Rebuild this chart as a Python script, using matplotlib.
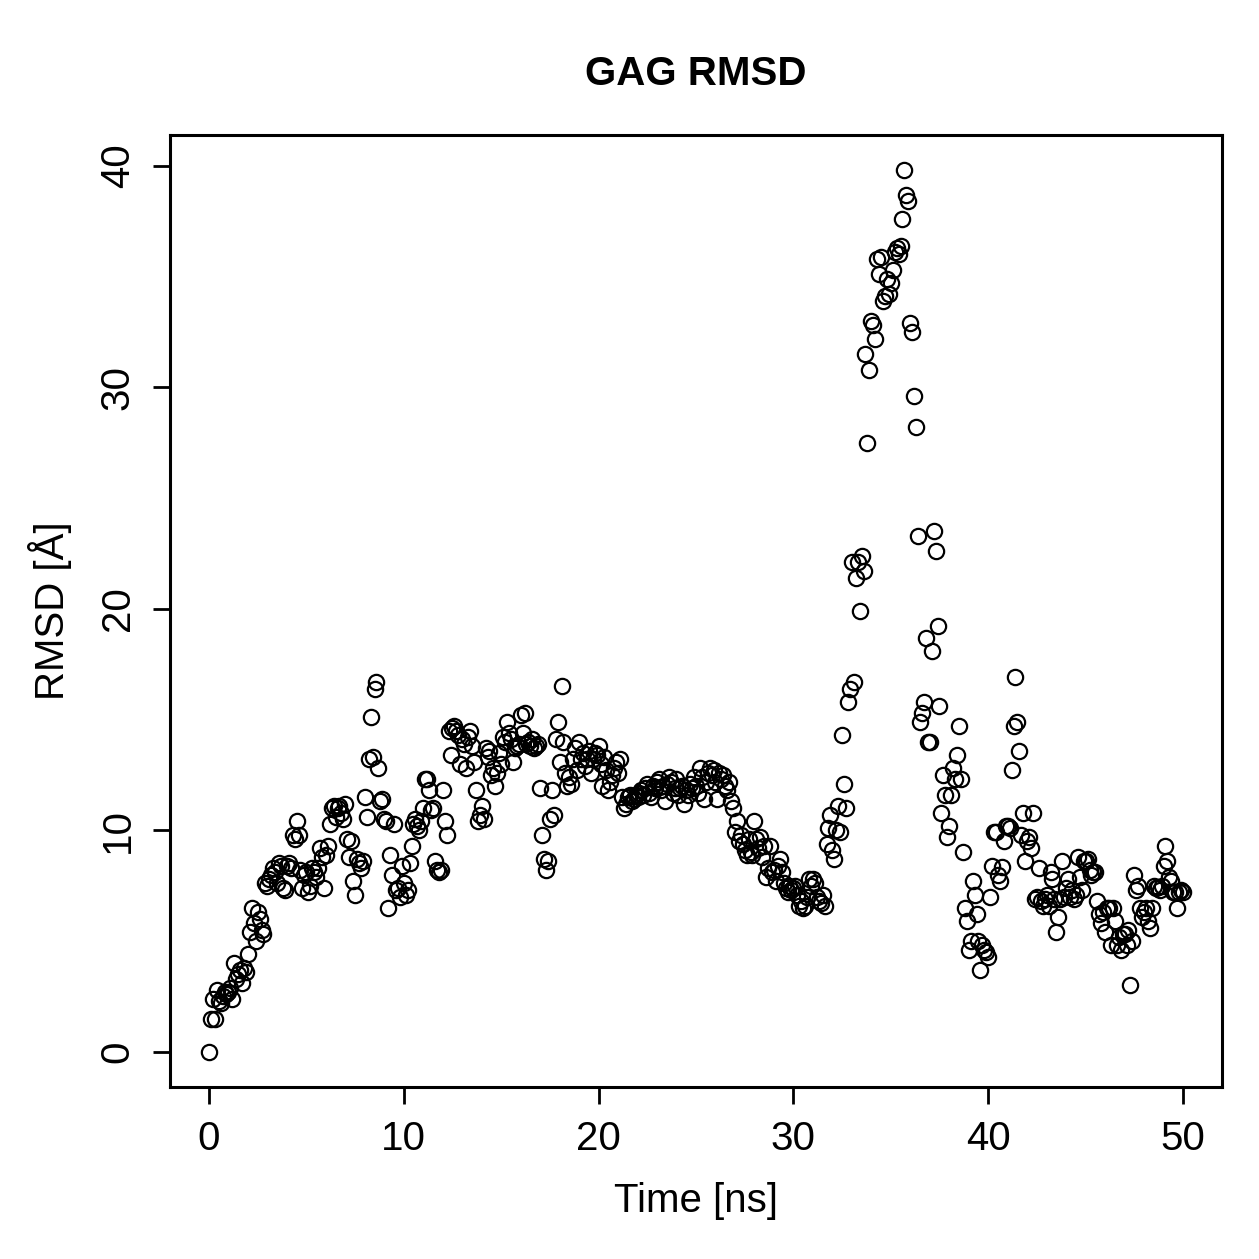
import numpy as np
import matplotlib
matplotlib.use("Agg")
import matplotlib.pyplot as plt

plt.rcParams['font.family'] = ['Liberation Sans', 'DejaVu Sans']

# ── RMSD values, one frame every 0.1 ns (rows = 1 ns) ───────────────────────
rmsd_0_10 = [
    0.0, 1.5, 2.4, 1.5, 2.8, 2.3, 2.2, 2.5, 2.7, 2.6,
    2.7, 2.9, 2.4, 4.0, 3.3, 3.5, 3.7, 3.1, 3.8, 3.6,
    4.4, 5.4, 6.5, 5.8, 5.0, 6.3, 6.0, 5.5, 5.3, 7.6,
    7.5, 7.8, 8.0, 8.3, 8.1, 7.6, 8.5, 8.4, 7.4, 7.3,
    8.4, 8.5, 8.3, 9.8, 9.6, 10.4, 9.8, 8.2, 7.4, 8.0,
    8.1, 7.2, 7.5, 8.3, 8.1, 7.9, 8.3, 9.2, 8.8, 7.4,
    8.9, 9.3, 10.3, 11.0, 11.1, 10.6, 11.0, 11.1, 10.8, 10.5,
    11.2, 9.6, 8.8, 9.5, 7.7, 7.1, 8.7, 8.5, 8.3, 8.6,
    11.5, 10.6, 13.2, 15.1, 13.3, 16.4, 16.7, 12.8, 11.3, 11.4,
    10.5, 10.4, 6.5, 8.9, 8.0, 10.3, 7.3, 7.4, 7.0, 8.4,
]
rmsd_10_20 = [
    7.6, 7.1, 7.3, 8.5, 9.3, 10.3, 10.5, 10.2, 10.0, 10.4,
    11.0, 12.3, 12.3, 11.8, 10.9, 11.0, 8.6, 8.2, 8.1, 8.2,
    11.8, 10.4, 9.8, 14.5, 13.4, 14.6, 14.7, 14.5, 14.3, 13.0,
    14.1, 13.9, 12.8, 14.2, 14.5, 13.8, 13.1, 11.8, 10.4, 10.7,
    11.1, 10.5, 13.7, 13.3, 13.6, 12.5, 12.8, 12.0, 12.6, 13.5,
    13.0, 14.2, 14.0, 14.9, 14.4, 14.1, 13.1, 13.7, 13.8, 13.9,
    15.2, 14.4, 15.3, 13.9, 14.0, 13.8, 14.1, 13.7, 13.8, 13.9,
    11.9, 9.8, 8.7, 8.2, 8.6, 10.5, 11.8, 10.7, 14.1, 14.9,
    13.1, 16.5, 14.0, 12.6, 12.0, 12.4, 12.1, 13.2, 13.7, 12.7,
    14.0, 13.2, 13.5, 12.9, 13.2, 13.6, 12.6, 13.2, 13.5, 13.4,
]
rmsd_20_30 = [
    13.8, 13.0, 12.0, 13.3, 12.7, 11.8, 12.2, 12.5, 12.8, 13.1,
    12.6, 13.2, 11.5, 11.0, 11.2, 11.5, 11.6, 11.3, 11.4, 11.6,
    11.5, 11.7, 11.8, 11.6, 11.9, 12.1, 11.7, 11.5, 12.0, 11.9,
    12.2, 12.3, 11.8, 12.0, 11.3, 12.1, 12.4, 12.2, 11.7, 11.9,
    12.3, 11.6, 11.9, 12.0, 11.2, 11.8, 11.6, 12.1, 11.9, 12.4,
    12.0, 11.7, 12.8, 12.4, 11.4, 12.2, 12.6, 12.8, 12.5, 12.7,
    12.2, 11.4, 12.6, 12.3, 12.5, 12.0, 11.8, 12.2, 11.3, 11.0,
    9.9, 10.4, 9.5, 9.8, 9.4, 9.1, 8.9, 9.6, 9.0, 8.9,
    10.4, 9.6, 9.2, 9.7, 8.8, 9.3, 7.9, 8.3, 9.3, 8.1,
    8.2, 7.7, 8.4, 8.7, 8.1, 7.6, 7.4, 7.2, 7.5, 7.3,
]
rmsd_30_40 = [
    7.4, 7.5, 7.1, 6.6, 6.8, 6.5, 6.6, 7.0, 7.8, 7.5,
    7.8, 7.6, 7.0, 6.8, 6.7, 7.1, 6.6, 9.4, 10.1, 10.7,
    9.1, 8.7, 10.0, 11.1, 9.9, 14.3, 12.1, 11.0, 15.8, 16.4,
    22.1, 16.7, 21.4, 22.1, 19.9, 22.4, 21.7, 31.5, 27.5, 30.8,
    33.0, 32.8, 32.2, 35.8, 35.1, 35.9, 33.9, 34.1, 34.9, 34.2,
    34.7, 35.3, 36.1, 36.3, 36.0, 36.4, 37.6, 39.8, 38.7, 38.4,
    32.9, 32.5, 29.6, 28.2, 23.3, 14.9, 15.3, 15.8, 18.7, 14.0,
    14.0, 18.1, 23.5, 22.6, 19.2, 15.6, 10.8, 12.5, 11.6, 9.7,
    10.2, 11.6, 12.8, 12.3, 13.4, 14.7, 12.3, 9.0, 6.5, 5.9,
    4.6, 5.0, 7.7, 7.1, 6.2, 5.0, 3.7, 4.8, 4.6, 4.5,
]
rmsd_40_50 = [
    4.3, 7.0, 8.4, 9.9, 9.9, 8.0, 7.7, 8.35, 9.5, 10.2,
    10.2, 10.1, 12.7, 14.7, 16.9, 14.9, 13.6, 9.8, 10.8, 8.6,
    9.5, 9.7, 9.2, 10.8, 6.9, 7.0, 8.3, 6.8, 6.6, 6.9,
    7.1, 6.6, 8.1, 7.8, 6.9, 5.4, 6.1, 6.9, 8.6, 7.0,
    7.4, 7.8, 7.0, 7.3, 6.9, 7.1, 8.8, 7.9, 7.3, 8.6,
    8.6, 8.7, 8.2, 8.0, 8.1, 8.1, 6.8, 6.2, 5.8, 6.3,
    5.4, 6.5, 6.5, 4.8, 6.5, 5.9, 4.8, 5.2, 4.6, 5.3,
    5.3, 4.8, 5.5, 3.0, 5.0, 8.0, 7.3, 7.5, 6.5, 6.1,
    6.3, 6.5, 5.9, 5.6, 6.5, 7.5, 7.4, 7.45, 7.3, 7.5,
    8.4, 9.3, 8.6, 7.9, 7.7, 7.2, 7.2, 6.5, 7.2, 7.3,
    7.2,
]

rmsd = np.array(rmsd_0_10 + rmsd_10_20 + rmsd_20_30 + rmsd_30_40 + rmsd_40_50)
time_ns = np.arange(len(rmsd)) * 0.1

# ── Figure (R base-graphics look) ───────────────────────────────────────────
fig = plt.figure(figsize=(12.59, 12.59), dpi=100)
ax = fig.add_axes([0.135, 0.1366, 0.8356, 0.7562])

ax.plot(time_ns, rmsd, linestyle='none', marker='o', markersize=11,
        markerfacecolor='none', markeredgecolor='black', markeredgewidth=1.6)

pad_x = 0.04 * (time_ns.max() - time_ns.min())
pad_y = 0.04 * (rmsd.max() - rmsd.min())
ax.set_xlim(time_ns.min() - pad_x, time_ns.max() + pad_x)
ax.set_ylim(rmsd.min() - pad_y, rmsd.max() + pad_y)

ax.set_xticks([0, 10, 20, 30, 40, 50])
ax.set_yticks([0, 10, 20, 30, 40])
ax.tick_params(direction='out', length=12, width=2, labelsize=29, pad=12)
for lbl in ax.get_yticklabels():
    lbl.set_rotation(90)
    lbl.set_va('center')
for s in ax.spines.values():
    s.set_linewidth(2.2)

ax.set_title('GAG RMSD', fontsize=29, fontweight='bold', pad=36)
ax.set_xlabel('Time [ns]', fontsize=29, labelpad=17)
ax.set_ylabel('RMSD [Å]', fontsize=29, labelpad=19)

fig.savefig('out.png', dpi=100)
